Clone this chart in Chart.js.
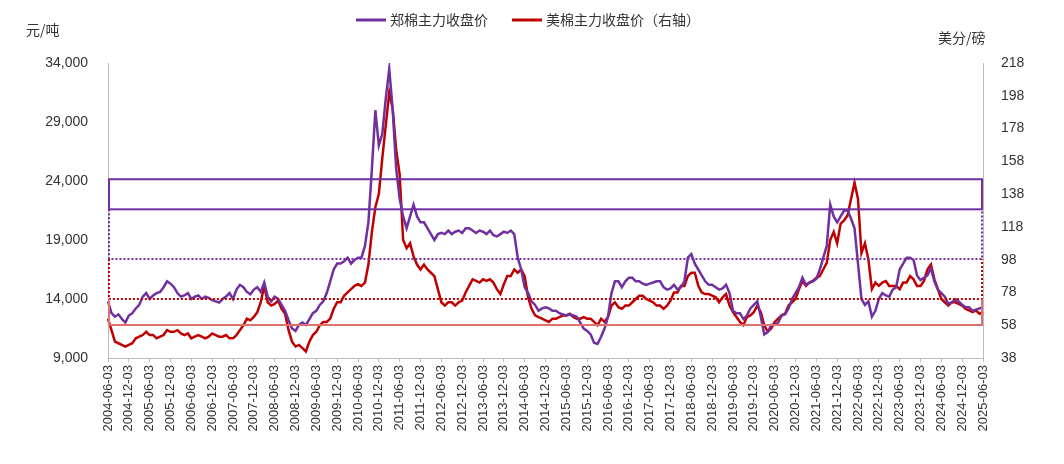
<!DOCTYPE html>
<html>
<head>
<meta charset="utf-8">
<script src="https://cdn.jsdelivr.net/npm/chart.js@4.4.1/dist/chart.umd.min.js"></script>
<style>
  body { margin: 0; background: #fff; }
  #wrap { width: 1064px; height: 464px; }
</style>
</head>
<body>
<div id="wrap"><canvas id="c" width="1064" height="464"></canvas></div>
<script>
// monthly values, 2004-06 .. 2025-06
const zceValues = [
  13800,12800,12500,12700,12300,12000,12600,
  12800,13200,13500,14200,14500,14000,14300,14500,14600,15000,15500,15300,
  15000,14500,14200,14300,14500,14000,14200,14300,14000,14200,14100,13900,
  13800,13700,14000,14200,14500,14000,14800,15200,15000,14600,14400,14800,
  15000,14600,15400,14200,13800,14200,14000,13500,13000,12200,11500,11300,
  11800,12000,11800,12300,12800,13000,13500,13800,14500,15500,16500,17000,
  17000,17200,17500,17000,17300,17500,17500,18500,20500,25000,30000,27000,
  28000,31000,33500,30000,25000,22500,21000,20000,21000,22000,21000,20500,
  20500,20000,19500,19000,19500,19600,19500,19800,19500,19700,19800,19600,
  20000,20000,19800,19600,19800,19700,19500,19800,19400,19300,19500,19700,
  19600,19800,19500,17500,16500,15000,14500,13800,13500,13000,13200,13300,
  13200,13000,13000,12800,12700,12600,12700,12600,12500,12000,11500,11300,
  11000,10300,10200,10800,11500,12500,14500,15500,15500,15000,15500,15800,
  15800,15500,15500,15300,15200,15300,15400,15500,15500,15000,14800,14900,
  15200,14800,15000,15500,17500,17800,17000,16500,16000,15500,15200,15200,
  15000,14800,14900,15200,14500,13000,12800,12800,12300,12600,13200,13500,
  13800,12500,11000,11200,11800,11800,12000,12600,12700,13200,14000,14500,
  15000,15800,15200,15400,15500,15700,16500,17500,18500,22000,21000,20500,
  21000,21500,21500,20800,20000,17000,14000,13500,13800,12500,13000,14000,
  14500,14300,14200,14800,15000,16500,17000,17500,17500,17300,16000,15600,
  15800,16000,16600,15500,14800,14500,14200,13600,13700,14000,13800,13500,
  13300,13300,13000,13100,13200,13300
];
const iceValues = [
  62,55,48,47,46,45,46,
  47,50,51,52,54,52,52,50,51,52,55,54,
  54,55,53,52,53,50,51,52,51,50,51,53,
  52,51,51,52,50,50,52,55,58,62,61,63,
  66,72,82,72,70,71,73,68,65,55,48,45,
  46,44,42,48,52,54,58,60,60,62,68,72,
  72,76,78,80,82,83,82,84,95,115,130,138,
  160,180,200,190,165,150,110,105,108,100,95,92,
  95,92,90,88,80,72,70,72,72,70,72,73,
  78,82,86,85,84,86,85,86,84,80,77,83,
  88,88,92,90,92,88,75,68,64,63,62,61,
  60,62,62,63,64,64,65,63,62,62,63,62,
  62,60,58,62,60,63,70,72,69,68,70,70,
  72,74,76,76,74,73,72,70,70,68,70,73,
  78,78,82,82,88,90,90,82,78,77,77,76,
  75,72,75,77,70,66,63,60,58,63,64,66,
  70,66,58,54,56,60,62,64,65,70,72,74,
  80,85,82,84,85,87,88,92,96,110,115,108,
  120,122,125,135,145,135,102,108,98,80,84,82,
  84,85,82,82,82,80,84,84,88,86,82,82,
  85,92,95,86,80,74,72,70,72,72,71,70,
  68,67,66,67,65,66
];
const dateLabels = zceValues.map((v, i) => {
  const m = 5 + i;
  const y = 2004 + Math.floor(m / 12);
  const mm = String(m % 12 + 1).padStart(2, '0');
  return y + '-' + mm + '-03';
});
// reference levels on the left axis
const purpleBox = [21600, 24150];
const purpleDotted = 17400;
const redDotted = 14000;
const redSolid = 11800;

const PURPLE = '#7030a0';
const RED = '#c00000';
const CJK = '"Noto Sans CJK SC"';

const guides = {
  id: 'guides',
  afterDatasetsDraw(chart) {
    const { ctx, chartArea: a, scales } = chart;
    const y = v => scales.y.getPixelForValue(v);
    const L = a.left + 1, R = a.right - 1;
    ctx.save();
    ctx.lineWidth = 2;
    ctx.strokeStyle = PURPLE;
    ctx.setLineDash([]);
    ctx.strokeRect(L, y(purpleBox[1]), R - L, y(purpleBox[0]) - y(purpleBox[1]));
    ctx.setLineDash([2, 2]);
    ctx.beginPath();
    ctx.moveTo(L, y(purpleBox[0])); ctx.lineTo(L, y(purpleDotted)); ctx.lineTo(R, y(purpleDotted)); ctx.lineTo(R, y(purpleBox[0]));
    ctx.stroke();
    ctx.strokeStyle = RED;
    ctx.beginPath();
    ctx.moveTo(L, y(purpleDotted)); ctx.lineTo(L, y(redDotted)); ctx.lineTo(R, y(redDotted)); ctx.lineTo(R, y(purpleDotted));
    ctx.stroke();
    ctx.setLineDash([]);
    ctx.strokeStyle = '#e07070';
    ctx.beginPath();
    ctx.moveTo(L, y(redDotted)); ctx.lineTo(L, y(redSolid)); ctx.lineTo(R, y(redSolid)); ctx.lineTo(R, y(redDotted));
    ctx.stroke();

    // units
    ctx.fillStyle = '#333';
    ctx.font = '14px ' + CJK;
    ctx.textBaseline = 'middle';
    ctx.textAlign = 'left';
    ctx.fillText('元/吨', 26, 30);
    ctx.fillText('美分/磅', 938, 38);

    // legend
    const items = [
      { text: '郑棉主力收盘价', color: PURPLE, x: 356 },
      { text: '美棉主力收盘价（右轴）', color: RED, x: 512 }
    ];
    ctx.lineWidth = 3;
    items.forEach(it => {
      ctx.strokeStyle = it.color;
      ctx.beginPath(); ctx.moveTo(it.x, 20); ctx.lineTo(it.x + 30, 20); ctx.stroke();
      ctx.fillText(it.text, it.x + 34, 20);
    });
    ctx.restore();
  }
};

new Chart(document.getElementById('c'), {
  type: 'line',
  data: {
    labels: dateLabels,
    datasets: [
      { label: '郑棉主力收盘价', data: zceValues, yAxisID: 'y', borderColor: PURPLE, backgroundColor: PURPLE, borderWidth: 2.5, pointRadius: 0, tension: 0 },
      { label: '美棉主力收盘价（右轴）', data: iceValues, yAxisID: 'y1', borderColor: RED, backgroundColor: RED, borderWidth: 2.5, pointRadius: 0, tension: 0 }
    ]
  },
  options: {
    responsive: false,
    animation: false,
    layout: { padding: { left: 0, right: 0, top: 63, bottom: 0 } },
    plugins: {
      tooltip: { enabled: false },
      legend: { display: false }
    },
    scales: {
      x: {
        offset: false,
        afterFit: s => { s.height = 106; },
        grid: { drawOnChartArea: false, drawTicks: true, tickLength: 4, color: '#bbb' },
        border: { color: '#bbb' },
        ticks: {
          autoSkip: false, maxRotation: 90, minRotation: 90, color: '#333', font: { size: 13, family: 'Liberation Sans' },
          callback: (v, i) => i % 6 === 0 ? dateLabels[i] : null
        }
      },
      y: {
        position: 'left', min: 9000, max: 34000,
        afterFit: s => { s.width = 108; },
        grid: { display: false },
        border: { color: '#bbb' },
        afterBuildTicks: s => { s.ticks = [9000,14000,19000,24000,29000,34000].map(v => ({ value: v })); },
        ticks: { color: '#333', padding: 12, font: { size: 14, family: 'Liberation Sans' }, callback: v => v.toLocaleString('en-US') }
      },
      y1: {
        position: 'right', min: 38, max: 218,
        afterFit: s => { s.width = 81; },
        grid: { display: false },
        border: { color: '#bbb' },
        ticks: { stepSize: 20, color: '#333', padding: 10, font: { size: 14, family: 'Liberation Sans' } }
      }
    }
  },
  plugins: [guides]
});
</script>
</body>
</html>
